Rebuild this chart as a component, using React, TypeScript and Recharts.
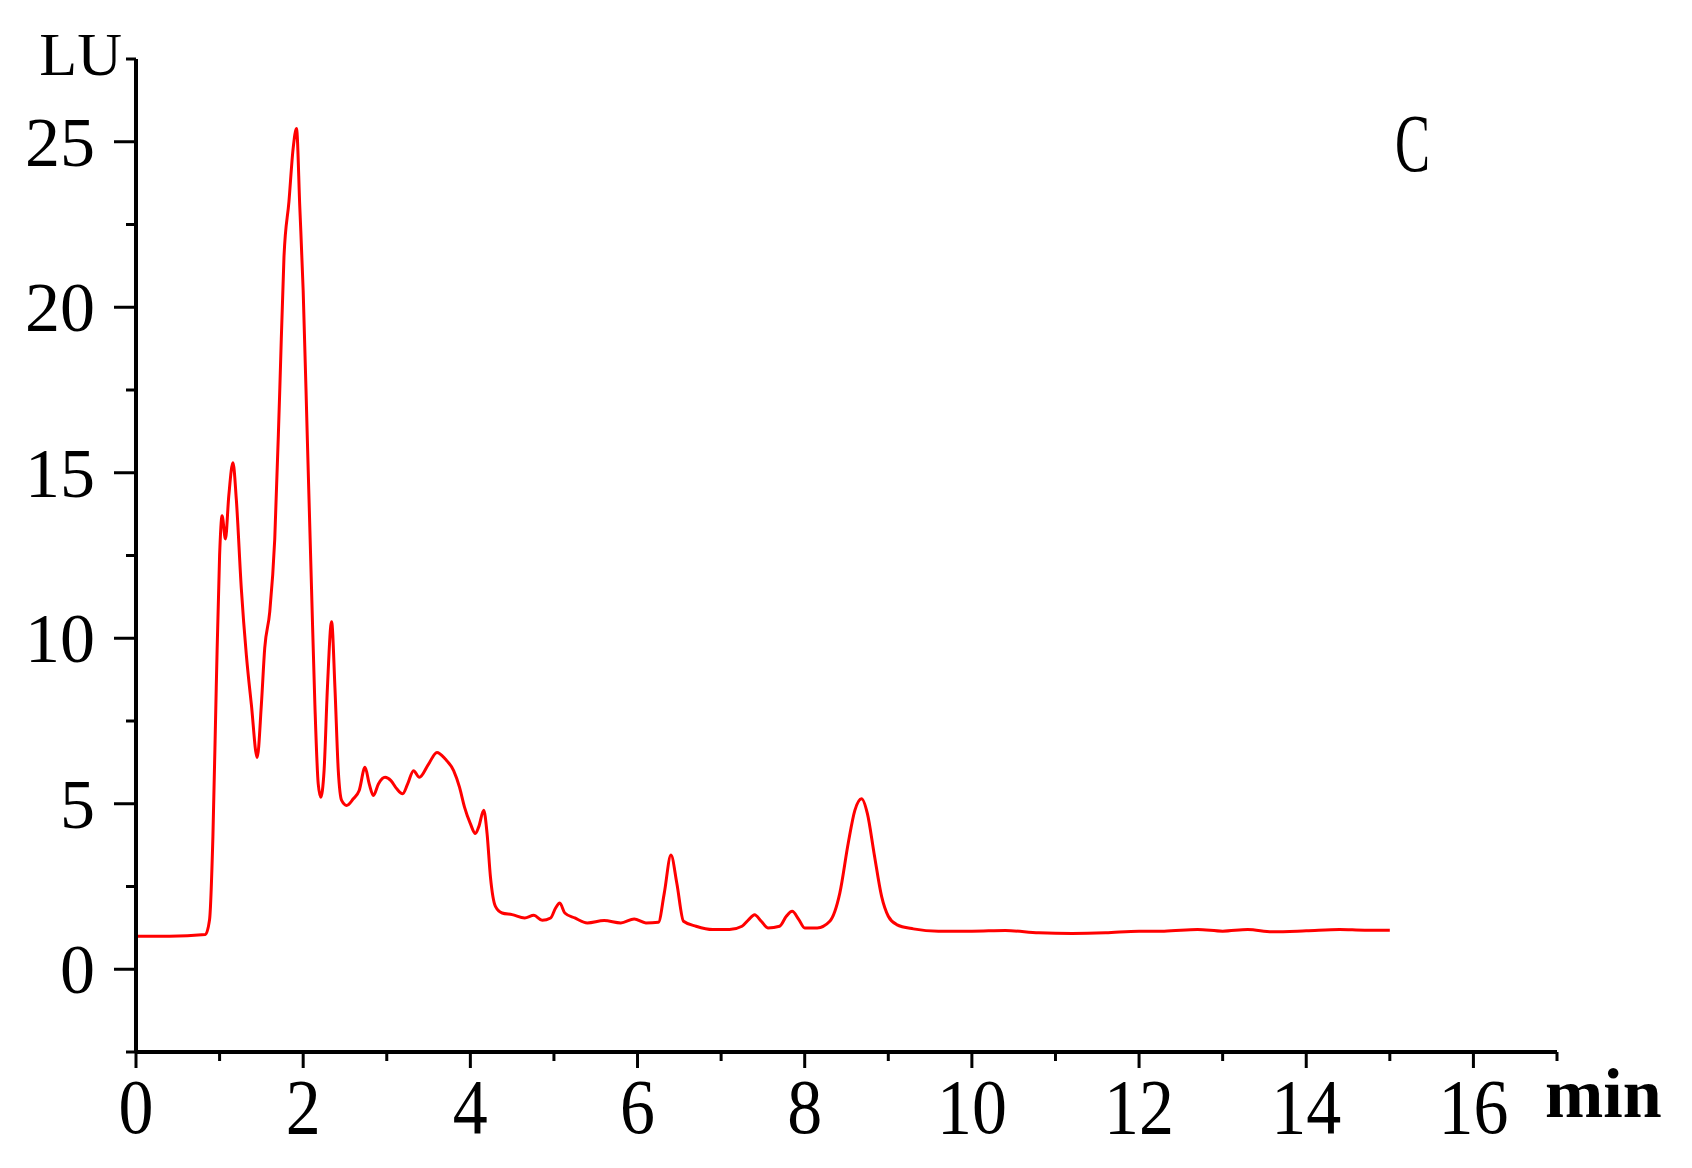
import React from "react";
import { LineChart, Line, XAxis, YAxis, Customized } from "recharts";

// retention time (min)
const times: number[] = [
  0, 0.4, 0.83, 0.88, 0.92, 0.96, 1.0, 1.03, 1.07, 1.11, 1.16, 1.2, 1.26, 1.32, 1.38, 1.45,
  1.5, 1.54, 1.6, 1.66, 1.72, 1.77, 1.83, 1.88, 1.92, 1.96, 2.0, 2.05, 2.1, 2.14, 2.18, 2.21,
  2.25, 2.29, 2.34, 2.38, 2.42, 2.46, 2.52, 2.6, 2.67, 2.74, 2.79, 2.84, 2.9, 2.98, 3.05, 3.12,
  3.19, 3.25, 3.32, 3.39, 3.5, 3.6, 3.7, 3.8, 3.87, 3.93, 4.0, 4.06, 4.1, 4.16, 4.2, 4.24,
  4.3, 4.38, 4.5, 4.65, 4.76, 4.86, 4.96, 5.02, 5.07, 5.13, 5.25, 5.4, 5.6, 5.8, 5.96, 6.1,
  6.25, 6.32, 6.4, 6.47, 6.55, 6.7, 6.9, 7.1, 7.25, 7.33, 7.4, 7.48, 7.56, 7.7, 7.78, 7.85,
  7.93, 8.0, 8.15, 8.3, 8.42, 8.52, 8.6, 8.68, 8.75, 8.83, 8.92, 9.0, 9.1, 9.3, 9.6, 10.0,
  10.4, 10.8, 11.2, 11.6, 12.0, 12.3, 12.7, 13.0, 13.3, 13.6, 14.0, 14.4, 14.7, 15.0,
];

// fluorescence signal (LU)
const signal: number[] = [
  1.0, 1.0, 1.05, 1.5, 4.0, 8.5, 12.5, 13.7, 13.0, 14.3, 15.3, 14.2, 11.5, 9.5, 8.0, 6.4,
  8.0, 9.7, 10.8, 13.0, 17.5, 21.5, 23.2, 24.8, 25.4, 23.0, 20.5, 16.0, 11.5, 8.0, 5.6, 5.2,
  6.0, 8.5, 10.5, 8.5, 6.0, 5.1, 4.95, 5.15, 5.4, 6.1, 5.6, 5.25, 5.6, 5.8, 5.7, 5.45,
  5.3, 5.6, 6.0, 5.8, 6.2, 6.55, 6.35, 6.0, 5.5, 4.9, 4.4, 4.1, 4.3, 4.8, 4.1, 2.8,
  1.9, 1.7, 1.65, 1.55, 1.63, 1.48, 1.55, 1.85, 2.0, 1.7, 1.55, 1.4, 1.47, 1.4, 1.52, 1.4,
  1.42, 2.3, 3.45, 2.6, 1.45, 1.3, 1.2, 1.2, 1.3, 1.5, 1.65, 1.45, 1.25, 1.3, 1.6, 1.75,
  1.5, 1.25, 1.25, 1.45, 2.3, 3.8, 4.8, 5.15, 4.7, 3.5, 2.2, 1.6, 1.35, 1.22, 1.15, 1.15,
  1.17, 1.1, 1.08, 1.1, 1.15, 1.15, 1.2, 1.15, 1.2, 1.13, 1.16, 1.2, 1.18, 1.18,
];

const xTicks: number[] = [0, 1, 2, 3, 4, 5, 6, 7, 8, 9, 10, 11, 12, 13, 14, 15, 16, 17];
const yTicks: number[] = [-2.5, 0, 2.5, 5, 7.5, 10, 12.5, 15, 17.5, 20, 22.5, 25, 27.5];

const data = times.map((t, i) => ({ t, v: signal[i] }));

const FONT = "'Liberation Serif', 'Times New Roman', serif";

const YTick = (props: any) => {
  const { x, y, payload } = props;
  const major = payload.value % 5 === 0;
  const len = major ? 22 : 10;
  return (
    <g>
      <line x1={x - len} x2={x} y1={y} y2={y} stroke="#000" strokeWidth={3} />
      {major && (
        <text x={x - 41} y={y + 24} textAnchor="end" fontFamily={FONT} fontSize={70} fill="#000">
          {payload.value}
        </text>
      )}
    </g>
  );
};

const XTick = (props: any) => {
  const { x, y, payload } = props;
  const major = payload.value % 2 === 0;
  const len = major ? 16 : 9;
  return (
    <g>
      <line x1={x} x2={x} y1={y} y2={y + len} stroke="#000" strokeWidth={3} />
      {major && (
        <text
          transform={`translate(${x},${y + 81}) scale(1,1.12)`}
          textAnchor="middle"
          fontFamily={FONT}
          fontSize={70}
          fill="#000"
        >
          {payload.value}
        </text>
      )}
    </g>
  );
};

const Annotations = () => (
  <g>
    <text x={122} y={75} textAnchor="end" fontFamily={FONT} fontSize={62} fill="#000">
      LU
    </text>
    <text x={1545} y={1117} fontFamily={FONT} fontSize={70} fontWeight="bold" fill="#000">
      min
    </text>
    <text transform="translate(1395,171) scale(0.64,1)" fontFamily={FONT} fontSize={82} fill="#000">
      C
    </text>
  </g>
);

export default function App() {
  return (
    <div style={{ position: "absolute", left: 0, top: 0, background: "#fff" }}>
      <LineChart width={1692} height={1168} data={data} margin={{ top: 59, right: 135, bottom: 0, left: 0 }}>
        <XAxis
          dataKey="t"
          type="number"
          domain={[0, 17]}
          ticks={xTicks}
          interval={0}
          allowDataOverflow
          height={116}
          tickSize={0}
          tickMargin={0}
          tickLine={false}
          axisLine={{ stroke: "#000", strokeWidth: 4 }}
          tick={<XTick />}
        />
        <YAxis
          type="number"
          domain={[-2.5, 27.5]}
          ticks={yTicks}
          interval={0}
          allowDataOverflow
          width={136}
          tickSize={0}
          tickMargin={0}
          tickLine={false}
          axisLine={{ stroke: "#000", strokeWidth: 4 }}
          tick={<YTick />}
        />
        <Line
          type="monotone"
          dataKey="v"
          stroke="#ff0000"
          strokeWidth={3}
          dot={false}
          isAnimationActive={false}
        />
        <Customized component={Annotations} />
      </LineChart>
    </div>
  );
}
